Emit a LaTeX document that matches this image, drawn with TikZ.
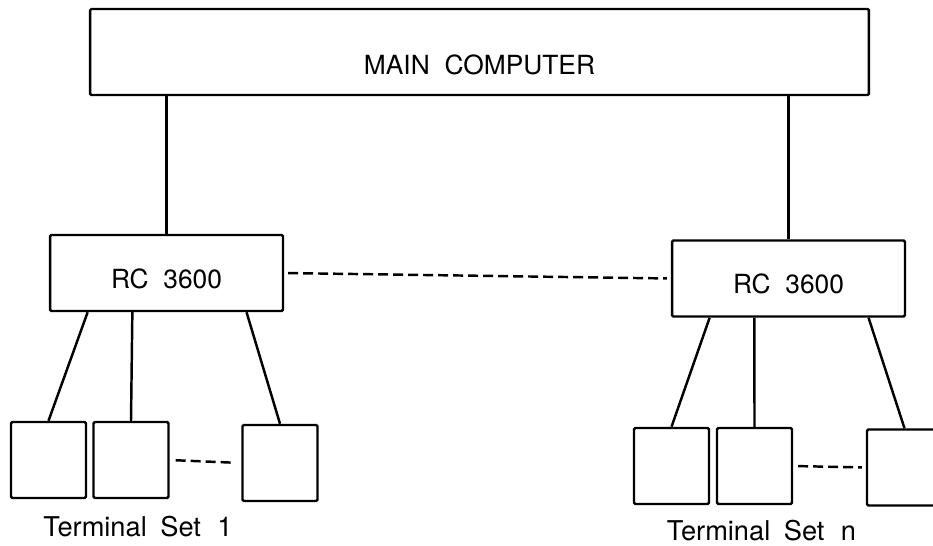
\documentclass[tikz,border=0pt]{standalone}
\usepackage{fontspec}
\setmainfont{TeX Gyre Heros}
\usetikzlibrary{calc}

\begin{document}
\begin{tikzpicture}[
    x=0.02cm, y=-0.02cm,
    box/.style={rectangle, draw, line width=1.4pt, inner sep=0pt, rounded corners=0.8pt, font=\fontsize{15}{18}\selectfont},
    mainbox/.style={box, minimum width=15.58cm, text height=1.32cm, text depth=0.4cm},
    rcbox/.style={box, minimum width=4.66cm, text height=1.06cm, text depth=0.46cm},
    terminal/.style={box, minimum width=1.5cm, minimum height=1.52cm},
    setlabel/.style={anchor=base, inner sep=0pt, font=\fontsize{15.5}{18}\selectfont},
    link/.style={line width=1.4pt},
    dashlink/.style={line width=1.4pt, dash pattern=on 0.2cm off 0.1cm}
]
\clip (0,0) rectangle (933,545);

% Computers
\node (main) [mainbox] at (479.5,52) {MAIN\ \ COMPUTER};
\node (rc1) [rcbox] at (166.5,273) {RC\ \ 3600};
\node (rc2) [rcbox] at (788.5,278.5) {RC\ \ 3600};

% Terminals
\node (t11) [terminal] at (48.5,460) {};
\node (t12) [terminal] at (131,460) {};
\node (t13) [terminal] at (280,463) {};
\node (t21) [terminal] at (671.5,466) {};
\node (t22) [terminal] at (754.5,466) {};
\node (t23) [terminal] at (904.5,467.5) {};

% Labels
\node (set1) [setlabel] at (138,536) {Terminal\hspace{0.5em}Set\hspace{0.6em}1};
\node (setn) [setlabel] at (761.5,540) {Terminal\hspace{0.5em}Set\hspace{0.6em}n};

% Lines
\draw [link] (main.south -| rc1.north) -- (rc1.north);
\draw [link] (main.south -| rc2.north) -- (rc2.north);
\draw [link] ($(rc1.south west)!.165!(rc1.south east)$) -- (t11.north);
\draw [link] ($(rc1.south west)!.355!(rc1.south east)$) -- (t12.north);
\draw [link] ($(rc1.south west)!.84!(rc1.south east)$) -- (t13.north);
\draw [link] ($(rc2.south west)!.165!(rc2.south east)$) -- (t21.north);
\draw [link] ($(rc2.south west)!.355!(rc2.south east)$) -- (t22.north);
\draw [link] ($(rc2.south west)!.84!(rc2.south east)$) -- (t23.north);

% Dashed links
\draw [dashlink, shorten <=0.08cm, shorten >=0.08cm] (rc1.east) -- (rc2.west);
\draw [dashlink, shorten <=0.12cm, shorten >=0.12cm] (t12.east) -- (t13.west);
\draw [dashlink, shorten <=0.1cm, shorten >=0.08cm] (t22.east) -- (t23.west);

\end{tikzpicture}
\end{document}
